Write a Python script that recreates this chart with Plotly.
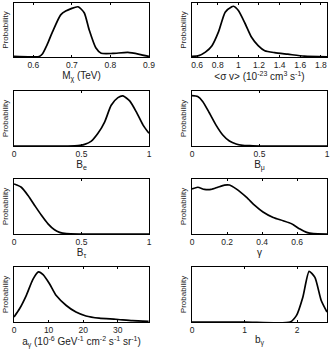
import plotly.graph_objs as go

# Posterior curves (x, relative probability)
mchi_x = [0.55, 0.615, 0.623, 0.636, 0.65, 0.671, 0.684, 0.716, 0.732, 0.745, 0.762, 0.776, 0.806, 0.845, 0.875, 0.9]
mchi_p = [0.01, 0.01, 0.05, 0.23, 0.47, 0.78, 0.85, 0.93, 0.82, 0.50, 0.17, 0.07, 0.066, 0.084, 0.05, 0.01]

sv_x = [0.55, 0.616, 0.68, 0.744, 0.808, 0.872, 0.936, 0.952, 1.0, 1.064, 1.128, 1.192, 1.256, 1.352, 1.48, 1.64, 1.86]
sv_p = [0.01, 0.026, 0.09, 0.21, 0.47, 0.83, 0.93, 0.94, 0.86, 0.625, 0.365, 0.21, 0.115, 0.08, 0.052, 0.016, 0.005]

be_x = [0.0, 0.2, 0.4, 0.45, 0.474, 0.523, 0.573, 0.622, 0.672, 0.72, 0.77, 0.807, 0.857, 0.906, 0.956, 1.0]
be_p = [0.0, 0.0, 0.0, 0.002, 0.006, 0.03, 0.09, 0.23, 0.44, 0.74, 0.88, 0.91, 0.82, 0.62, 0.38, 0.23]

bmu_x = [0.0, 0.042, 0.079, 0.129, 0.178, 0.228, 0.277, 0.327, 0.376, 0.426, 0.5, 0.75, 1.0]
bmu_p = [0.915, 0.9, 0.81, 0.6, 0.38, 0.2, 0.09, 0.036, 0.012, 0.006, 0.0, 0.0, 0.0]

btau_x = [0.0, 0.054, 0.104, 0.153, 0.202, 0.252, 0.3, 0.338, 0.388, 0.5, 0.75, 1.0]
btau_p = [0.91, 0.85, 0.70, 0.52, 0.345, 0.185, 0.077, 0.03, 0.006, 0.0, 0.0, 0.0]

gam_x = [0.0, 0.033, 0.071, 0.109, 0.147, 0.185, 0.214, 0.252, 0.31, 0.358, 0.405, 0.463, 0.52, 0.568, 0.616, 0.654, 0.692, 0.77]
gam_p = [0.82, 0.85, 0.81, 0.81, 0.85, 0.89, 0.89, 0.82, 0.67, 0.52, 0.40, 0.30, 0.24, 0.185, 0.09, 0.03, 0.006, 0.0]

ag_x = [0.0, 1.6, 3.6, 5.5, 7.1, 8.4, 10.3, 12.2, 15.1, 17.9, 20.8, 24.6, 29.4, 34.2, 38.9]
ag_p = [0.09, 0.24, 0.49, 0.78, 0.91, 0.86, 0.69, 0.48, 0.30, 0.18, 0.11, 0.07, 0.05, 0.024, 0.012]

bg_x = [0.0, 1.0, 1.87, 1.99, 2.11, 2.23, 2.34, 2.46, 2.57]
bg_p = [0.0, 0.0, 0.0, 0.12, 0.45, 0.92, 0.81, 0.39, 0.18]

titles = ['M<sub>χ</sub> (TeV)',
          '&lt;σ v&gt; (10<sup>-23</sup> cm<sup>3</sup> s<sup>-1</sup>)',
          'B<sub>e</sub>', 'B<sub>μ</sub>', 'B<sub>τ</sub>', 'γ',
          'a<sub>γ</sub> (10<sup>-6</sup> GeV<sup>-1</sup> cm<sup>-2</sup> s<sup>-1</sup> sr<sup>-1</sup>)',
          'b<sub>γ</sub>']
xranges = [[0.55, 0.9], [0.55, 1.86], [0, 1], [0, 1], [0, 1], [0, 0.77], [0, 39], [0, 2.57]]
tickvals = [[0.6, 0.7, 0.8, 0.9], [0.6, 0.8, 1, 1.2, 1.4, 1.6, 1.8], [0, 0.5, 1], [0, 0.5, 1],
            [0, 0.5, 1], [0, 0.2, 0.4, 0.6], [0, 10, 20, 30], [0, 1, 2]]
ticktext = [['0.6', '0.7', '0.8', '0.9'], ['0.6', '0.8', '1', '1.2', '1.4', '1.6', '1.8'],
            ['0', '0.5', '1'], ['0', '0.5', '1'], ['0', '0.5', '1'],
            ['0', '0.2', '0.4', '0.6'], ['0', '10', '20', '30'], ['0', '1', '2']]
series = [(mchi_x, mchi_p), (sv_x, sv_p), (be_x, be_p), (bmu_x, bmu_p),
          (btau_x, btau_p), (gam_x, gam_p), (ag_x, ag_p), (bg_x, bg_p)]

W, H = 332, 349
cols = [(14, 149), (192, 327)]
rows = [(3, 57), (91, 146), (179, 234), (267, 322)]

fig = go.Figure()
layout = dict(width=W, height=H, margin=dict(l=0, r=0, t=0, b=0, autoexpand=False),
              template='none', paper_bgcolor='white', plot_bgcolor='white', showlegend=False,
              font=dict(family='Liberation Sans, Arial', size=8, color='#222'))

for i, (xs, ps) in enumerate(series):
    r, c = divmod(i, 2)
    n = '' if i == 0 else str(i + 1)
    fig.add_trace(go.Scatter(x=xs, y=ps, mode='lines', xaxis='x' + n, yaxis='y' + n,
                             line=dict(color='black', width=1.7, shape='spline', smoothing=0.6)))
    x0, x1 = cols[c]
    y0, y1 = rows[r]
    layout['xaxis' + n] = dict(domain=[x0 / W, x1 / W], range=xranges[i], anchor='y' + n,
                               automargin=False,
                               showline=True, linecolor='black', linewidth=1, mirror='ticks',
                               ticks='inside', ticklen=2, tickcolor='black',
                               tickvals=tickvals[i], ticktext=ticktext[i], showgrid=False,
                               zeroline=False, title=dict(text=titles[i], standoff=1),
                               tickfont=dict(size=8.5))
    layout['yaxis' + n] = dict(domain=[1 - y1 / H, 1 - y0 / H], range=[0, 1], anchor='x' + n,
                               automargin=False,
                               showline=True, linecolor='black', linewidth=1, mirror=True,
                               showticklabels=False, ticks='', showgrid=False, zeroline=False,
                               title=dict(text='Probability', standoff=3, font=dict(size=8)))

fig.update_layout(**layout)
# drop the page's default body margin so the figure sits at the window's corner
fig.write_html("out.html", config={'displayModeBar': False},
               post_script="document.body.style.margin='0px';")
